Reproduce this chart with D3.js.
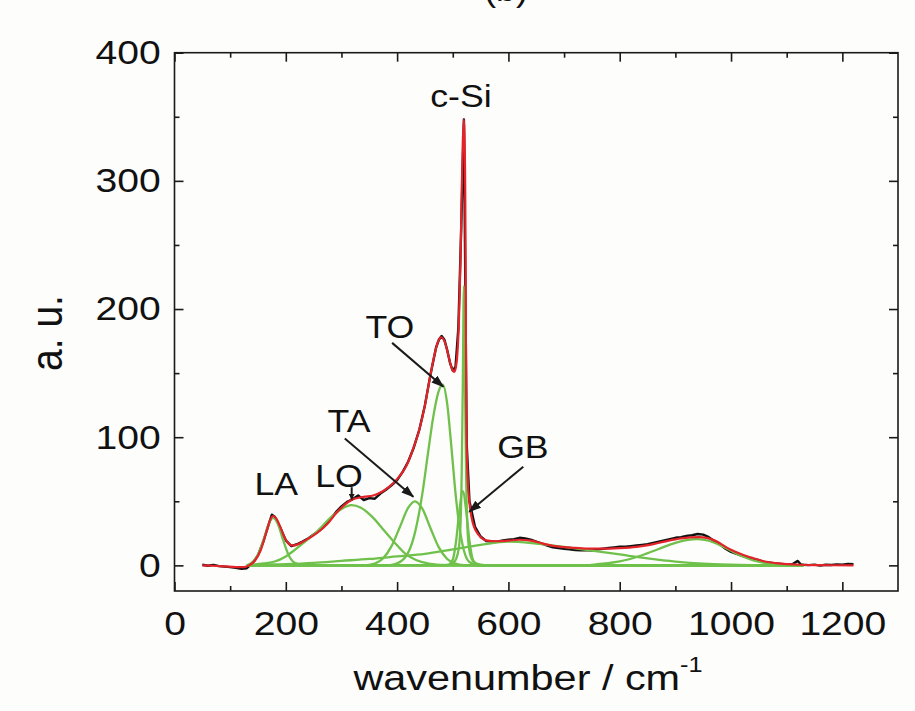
<!DOCTYPE html>
<html>
<head>
<meta charset="utf-8">
<script src="https://cdn.jsdelivr.net/npm/d3@7.9.0/dist/d3.min.js"></script>
<style>
  body { margin: 0; background: #fdfdfb; }
  svg { display: block; font-family: "Liberation Sans", Arial, sans-serif; }
</style>
</head>
<body>
<svg id="chart" width="915" height="711"></svg>
<script>
// tick values
const xMajor = [0, 200, 400, 600, 800, 1000, 1200];
const xMinor = [100, 300, 500, 700, 900, 1100];
const yMajor = [0, 100, 200, 300, 400];
const yMinor = [50, 150, 250, 350];

// measured spectrum (black), [wavenumber, intensity]
const measured = [
  [50,0.5],[60,-0.3],[70,0.4],[80,-0.6],[90,-1.0],[100,-1.4],[110,-2.0],[120,-2.6],[130,-2.2],
  [140,1.5],[150,8],[160,19],[170,33],[175,39.5],[180,38],[190,29.5],[200,19.5],[210,15],
  [220,16.5],[230,18.5],[240,21],[250,24],[260,27],[270,31],[280,36],[290,41.5],[300,46],
  [310,49.5],[320,51.5],[330,54.5],[340,51],[350,52.5],[360,52],[370,56],[380,59],[390,62.5],
  [400,66.5],[410,73],[420,81],[430,92],[440,106],[450,125],[460,149],[470,170],[475,176],
  [480,179],[485,176],[490,168],[495,158],[500,152],[505,155],[510,185],[515,260],[520,348],
  [525,95],[530,50],[540,30],[550,22.5],[560,19],[570,18.5],[580,18.5],[590,19.5],[600,20],
  [610,20.5],[620,21.5],[630,21],[640,20],[650,18.5],[660,17],[670,15.5],[680,14],[690,13.5],
  [700,13],[710,12.5],[720,12],[730,11.8],[740,12],[750,11.5],[760,12.5],[770,13],[780,13.5],
  [790,14],[800,14.5],[810,14.5],[820,15],[830,15.5],[840,16],[850,16.5],[860,17.5],[870,18.5],
  [880,19.5],[890,20.5],[900,21.5],[910,22],[920,23],[930,23.5],[940,24.5],[950,24],[960,22],
  [970,19],[980,16.5],[990,13],[1000,10.5],[1010,9],[1020,7.5],[1030,6],[1040,5],[1050,4],
  [1060,2.5],[1070,2],[1080,1.5],[1090,1.2],[1100,0.8],[1110,0.9],[1120,3.5],[1125,0.8],
  [1130,0.5],[1140,0.2],[1150,0.6],[1160,-0.2],[1170,0.5],[1180,0.3],[1190,0.8],[1200,0.5],
  [1210,1.2],[1220,1.0]
];

// cumulative fit (red)
const fitSum = [
  [50,0],[70,-0.3],[90,-0.8],[110,-1.3],[125,-1.3],[135,0.2],[145,4],[155,12],[165,26],
  [172,35.5],[177,38.5],[183,36.5],[190,30],[198,21.5],[205,17],[213,15.5],[222,16.5],
  [235,19.5],[255,25],[275,32.5],[291,41],[305,47],[320,51.5],[340,53.5],[357,54.5],[375,58],
  [393,64],[405,70],[417,78],[428,90],[440,106],[450,125],[458,144],[466,162],[473,174],
  [479,178],[485,175],[492,164],[498,154],[503,151],[507,159],[511,190],[514,240],[516,290],
  [518,330],[520,348],[521,338],[522.5,285],[523.5,190],[524.5,105],[527,66],[530,49],
  [536,33],[548,23],[560,19.5],[580,18.8],[600,19.3],[620,20],[640,19.3],[660,17.2],
  [680,15.2],[700,14.2],[720,13.6],[746,13],[770,13],[800,13.5],[830,14.5],[854,16],
  [880,18.5],[910,21],[943,22],[970,19.5],[997,12.8],[1020,8.5],[1040,5.6],[1057,3.4],
  [1080,1.8],[1100,1],[1123,0.5],[1160,0.2],[1220,0]
];

// fitted components (green)
const peakLA = [[130,0],[140,2.5],[150,8.5],[160,20],[170,33],[177,37],[185,33],[195,20],
  [205,8],[215,2.2],[230,0.2],[250,0],[1130,0]];
const peakLO = [[130,0],[160,1.5],[180,3],[200,7],[213,11],[230,17],[255,26],[280,37],
  [300,44],[318,47],[335,45],[355,38],[375,28],[395,18],[415,9],[435,4],[455,1.5],[480,0.3],
  [500,0],[1130,0]];
const peakTA = [[130,0],[340,0],[360,1.4],[375,5.5],[390,15],[405,30],[420,45],[432,50],
  [445,44.5],[460,29],[475,14],[490,5],[505,1.3],[520,0.2],[540,0],[1130,0]];
const peakTO = [[130,0],[380,0],[395,0.8],[415,6.5],[430,22],[445,55],[455,86],[465,116],
  [474,135],[482,141],[490,126],[497,95],[505,56],[512,30],[520,11.6],[530,2.6],[545,0.1],
  [560,0],[1130,0]];
const peakGB = [[130,0],[480,0],[492,0.5],[500,4.6],[506,19],[511,39],[518,58],[525,39],
  [530,19],[536,4.6],[544,0.5],[556,0],[1130,0]];
const peakCSi = [[130,0],[490,0],[500,2],[506,5],[511,14],[514,33],[516,70],[518,140],
  [520,218],[522,140],[524,70],[526,33],[529,14],[534,5],[540,2],[550,0.5],[565,0],[1130,0]];
const bandBroad = [[130,0],[140,0.3],[200,1],[250,2],[300,3.5],[350,5],[400,7],[450,9],
  [500,12.5],[550,16],[600,18.5],[650,17],[700,14.5],[750,11.5],[800,8.5],[850,5.5],[900,3],
  [950,1.3],[1000,0.5],[1050,0.1],[1130,0]];
const band940 = [[130,0],[740,0],[760,0.9],[800,3.1],[840,7.9],[870,12.8],[900,17.6],
  [920,19.7],[940,20.5],[960,19.2],[985,14.7],[1010,9.1],[1040,3.9],[1070,1.3],[1110,0.2],
  [1130,0]];

const components = [peakLA, peakLO, peakTA, peakTO, peakGB, peakCSi, bandBroad, band940];

// annotation texts and arrows, in data units
const labels = [
  { text: 'LA', w: 183, v: 55 },
  { text: 'LO', w: 295.5, v: 61.4 },
  { text: 'TA', w: 313.5, v: 104.3 },
  { text: 'TO', w: 387, v: 177.4 },
  { text: 'GB', w: 626, v: 83.8 },
  { text: 'c-Si', w: 514.7, v: 357.6 }
];
const arrows = [
  { from: [318.4, 61], to: [318.4, 51.5], head: 'small' },
  { from: [306, 99], to: [429, 53.6], head: 'big' },
  { from: [391, 173.6], to: [483, 139.4], head: 'big' },
  { from: [626.7, 77], to: [529.6, 41.9], head: 'big' }
];

const W = 915, H = 711;
const margin = { top: 52.7, right: 17, bottom: 120, left: 174.5 };
const stretch = 'scale(1.15,1)';
const ink = '#1a1a1a';

const svg = d3.select('#chart');
const x = d3.scaleLinear().domain([0, 1300]).range([margin.left, W - margin.right]);
const y = d3.scaleLinear().domain([-20, 400]).range([H - margin.bottom, margin.top]);

const defs = svg.append('defs');
[['big', 13, 9], ['small', 6, 6]].forEach(([id, len, wid]) => {
  defs.append('marker')
    .attr('id', 'head-' + id)
    .attr('viewBox', '0 0 10 10')
    .attr('preserveAspectRatio', 'none')
    .attr('refX', 9).attr('refY', 5)
    .attr('markerWidth', len).attr('markerHeight', wid)
    .attr('markerUnits', 'userSpaceOnUse')
    .attr('orient', 'auto')
    .append('path').attr('d', 'M0,0 L10,5 L0,10 Z').attr('fill', ink);
});

// axes: every side gets inward ticks, majors longer than minors
function addAxis(axisFn, scale, values, size, pos, labelled) {
  const g = svg.append('g').attr('transform', pos);
  const ax = axisFn(scale).tickValues(values).tickSize(-size)
    .tickFormat(labelled ? d3.format('d') : '');
  if (labelled) ax.tickPadding(axisFn === d3.axisBottom ? 20 : 12);
  g.call(ax);
  return g;
}
const atBottom = `translate(0,${y(-20)})`, atTop = `translate(0,${y(400)})`;
const atLeft = `translate(${x(0)},0)`, atRight = `translate(${x(1300)},0)`;
addAxis(d3.axisBottom, x, xMajor, 9, atBottom, true);
addAxis(d3.axisBottom, x, xMinor, 5, atBottom, false);
addAxis(d3.axisTop, x, xMajor, 9, atTop, false);
addAxis(d3.axisTop, x, xMinor, 5, atTop, false);
addAxis(d3.axisLeft, y, yMajor, 9, atLeft, true);
addAxis(d3.axisLeft, y, yMinor, 5, atLeft, false);
addAxis(d3.axisRight, y, yMajor, 9, atRight, false);
addAxis(d3.axisRight, y, yMinor, 5, atRight, false);

svg.selectAll('.domain').remove();
svg.selectAll('.tick line').attr('stroke', ink).attr('stroke-width', 1.6);
svg.selectAll('.tick text')
  .attr('font-size', 34)
  .attr('font-family', '"Liberation Sans", Arial, sans-serif')
  .attr('fill', '#111')
  .attr('transform', stretch);

svg.append('rect')
  .attr('x', x(0)).attr('y', y(400))
  .attr('width', x(1300) - x(0)).attr('height', y(-20) - y(400))
  .attr('fill', 'none').attr('stroke', ink).attr('stroke-width', 1.6);

// curves
const rough = d3.line().x(d => x(d[0])).y(d => y(d[1]));
const smooth = d3.line().x(d => x(d[0])).y(d => y(d[1])).curve(d3.curveMonotoneX);

svg.append('path').datum(measured)
  .attr('d', rough).attr('fill', 'none').attr('stroke', '#111').attr('stroke-width', 2.4)
  .attr('stroke-linejoin', 'round');

svg.append('g').selectAll('path').data(components).join('path')
  .attr('d', smooth).attr('fill', 'none').attr('stroke', '#6fc14b').attr('stroke-width', 2.3);

svg.append('path').datum(fitSum)
  .attr('d', smooth).attr('fill', 'none').attr('stroke', '#e2232a').attr('stroke-width', 2.2)
  .attr('stroke-linejoin', 'round');

// annotations
arrows.forEach(a => {
  svg.append('line')
    .attr('x1', x(a.from[0])).attr('y1', y(a.from[1]))
    .attr('x2', x(a.to[0])).attr('y2', y(a.to[1]))
    .attr('stroke', ink).attr('stroke-width', 2)
    .attr('marker-end', `url(#head-${a.head})`);
});

labels.forEach(l => {
  svg.append('text')
    .attr('transform', `translate(${x(l.w)},${y(l.v)}) ${stretch}`)
    .attr('text-anchor', 'middle')
    .attr('font-size', 31)
    .attr('fill', '#111')
    .text(l.text);
});

// axis titles
const xt = svg.append('text')
  .attr('transform', `translate(528,690) ${stretch}`)
  .attr('text-anchor', 'middle')
  .attr('font-size', 36)
  .attr('fill', '#111');
xt.append('tspan').text('wavenumber / cm');
xt.append('tspan').attr('dy', -18).attr('font-size', 22).text('-1');

svg.append('text')
  .attr('transform', 'translate(62,333) rotate(-90) scale(1,1.15)')
  .attr('text-anchor', 'middle')
  .attr('font-size', 39)
  .attr('fill', '#111')
  .text('a. u.');

// panel letter, cut by the top edge as in the original figure
svg.append('text')
  .attr('transform', `translate(506,1) ${stretch}`)
  .attr('text-anchor', 'middle')
  .attr('font-size', 31)
  .attr('fill', '#111')
  .text('(b)');
</script>
</body>
</html>
